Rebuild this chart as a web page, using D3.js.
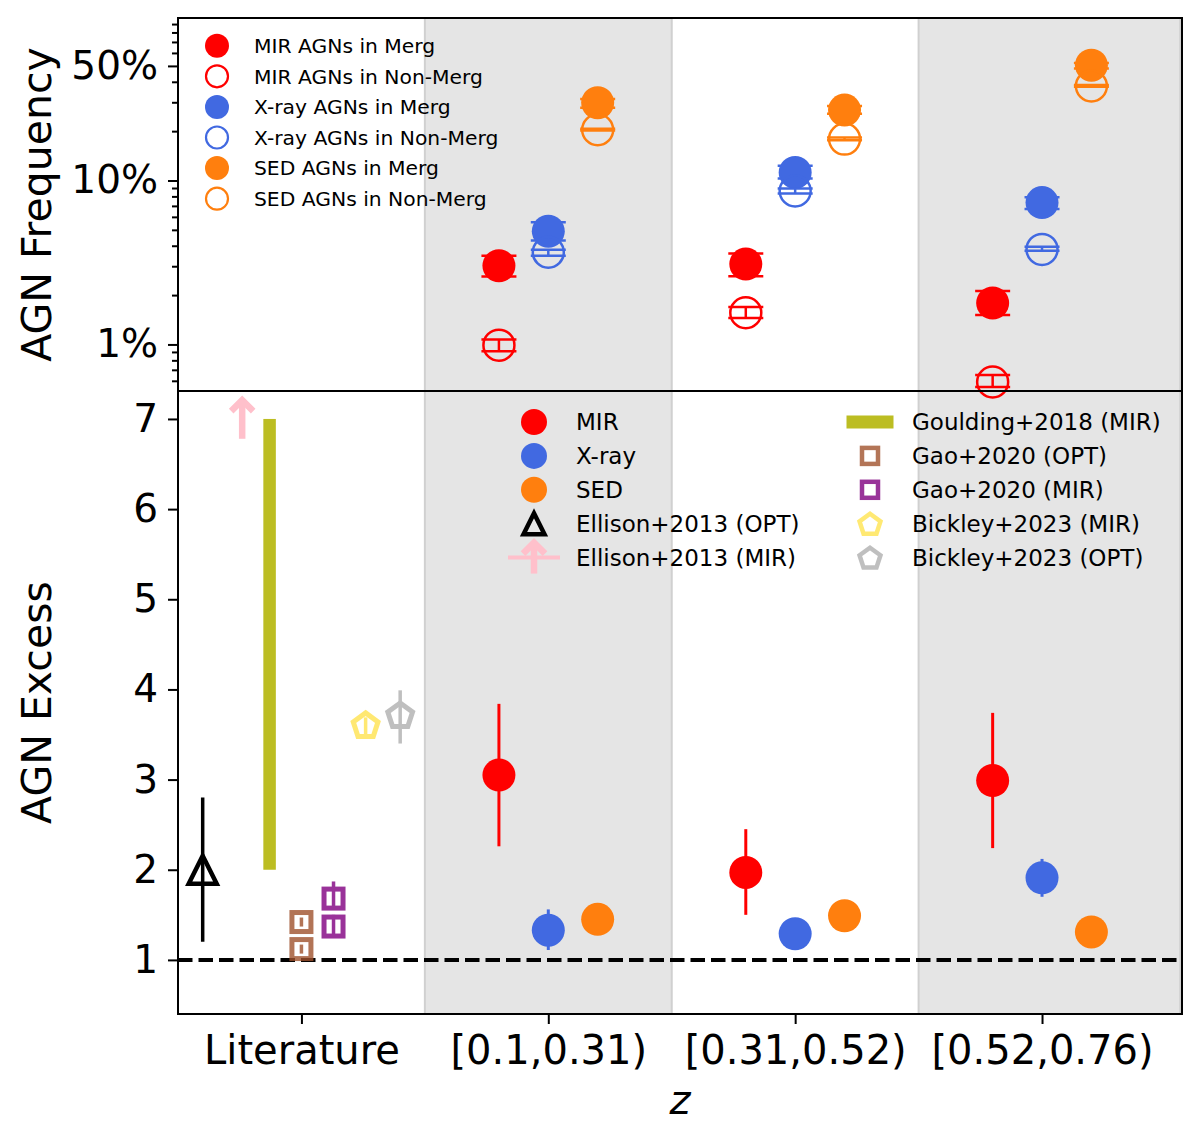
<!DOCTYPE html>
<html>
<head>
<meta charset="utf-8">
<script src="https://cdnjs.cloudflare.com/ajax/libs/d3/7.8.5/d3.min.js"></script>
<style>
  body { margin: 0; background: #fff; }
  text { font-family: "DejaVu Sans", sans-serif; fill: #000; }
</style>
</head>
<body>
<div id="chart-area"></div>
<script>
// ---- data ----
var bins = ["Literature", "[0.1,0.31)", "[0.31,0.52)", "[0.52,0.76)"];
var binPos = [0, 1, 2, 3];
var zBins = [1, 2, 3];

// AGN frequency (fractions) per redshift bin: value, lower, upper
var mirMerg    = [0.0302, 0.0309, 0.0179];
var mirMergLo  = [0.0260, 0.0261, 0.0151];
var mirMergHi  = [0.0347, 0.0359, 0.0212];
var mirNon     = [0.0099, 0.0156, 0.0059];
var mirNonLo   = [0.0091, 0.0145, 0.0055];
var mirNonHi   = [0.0107, 0.0169, 0.0065];
var xrayMerg   = [0.049, 0.112, 0.0733];
var xrayMergLo = [0.043, 0.103, 0.067];
var xrayMergHi = [0.0557, 0.123, 0.079];
var xrayNon    = [0.0365, 0.0863, 0.038];
var xrayNonLo  = [0.0348, 0.0833, 0.0373];
var xrayNonHi  = [0.0378, 0.0893, 0.0395];
var sedMerg    = [0.298, 0.269, 0.505];
var sedMergLo  = [0.278, 0.255, 0.483];
var sedMergHi  = [0.314, 0.285, 0.52];
var sedNon     = [0.204, 0.179, 0.377];
var sedNonLo   = [0.202, 0.176, 0.373];
var sedNonHi   = [0.207, 0.183, 0.382];

// AGN excess per redshift bin
var exMir    = [3.05, 1.97, 2.99];
var exMirLo  = [2.26, 1.50, 2.24];
var exMirHi  = [3.84, 2.45, 3.74];
var exXray   = [1.33, 1.29, 1.91];
var exXrayLo = [1.11, 1.27, 1.70];
var exXrayHi = [1.56, 1.31, 2.12];
var exSed    = [1.45, 1.49, 1.31];
var exSedLo  = [1.43, 1.47, 1.29];
var exSedHi  = [1.47, 1.51, 1.33];

// literature values
var ellisonOpt = { x: -0.4, v: 2.0, lo: 1.2, hi: 2.8 };
var ellisonMir = { x: -0.24, lo: 6.78, hi: 7.22 };
var goulding   = { x: -0.13, lo: 2.0, hi: 7.0 };
var gaoOpt     = [1.42, 1.12];
var gaoOptLo   = [1.37, 1.07];
var gaoOptHi   = [1.47, 1.17];
var gaoMir     = [1.68, 1.37];
var gaoMirLo   = [1.57, 1.25];
var gaoMirHi   = [1.87, 1.50];
var bickleyMir = { x: 0.26, v: 3.61, lo: 3.50, hi: 3.69 };
var bickleyOpt = { x: 0.40, v: 3.72, lo: 3.40, hi: 3.99 };

var freqTicks = [0.01, 0.1, 0.5];
var freqTickLabels = ["1%", "10%", "50%"];
var freqMinor = [0.006, 0.007, 0.008, 0.009, 0.02, 0.03, 0.04, 0.05, 0.06, 0.07, 0.08, 0.09,
                 0.2, 0.3, 0.4, 0.6, 0.7, 0.8, 0.9];
var excessTicks = [1, 2, 3, 4, 5, 6, 7];

var RED = "#ff0000", BLUE = "#4169e1", ORANGE = "#ff7f0e";

// ---- layout ----
var left = 178, right = 1182, top1 = 18, mid = 391, bottom = 1014;

var svg = d3.select("#chart-area").append("svg")
  .attr("width", 1200)
  .attr("height", 1141);

svg.append("rect").attr("width", 1200).attr("height", 1141).attr("fill", "#fff");

var x = d3.scaleLinear().domain([-0.5, 3.567]).range([left, right]);
var yTop = d3.scaleLog().domain([0.0052, 0.98]).range([mid, top1]);
var yBot = d3.scaleLinear().domain([0.4, 7.31]).range([bottom, mid]);

// shaded redshift bins (span both panels)
[[0.5, 1.5], [2.5, 3.56]].forEach(function(s) {
  svg.append("rect")
    .attr("x", x(s[0]))
    .attr("y", top1)
    .attr("width", x(s[1]) - x(s[0]))
    .attr("height", bottom - top1)
    .attr("fill", "#e5e5e5")
    .attr("stroke", "#d0d0d0")
    .attr("stroke-width", 2);
});

// helper: vertical error bar
function errBar(g, xp, y0, y1, color, width, cap) {
  g.append("line")
    .attr("x1", xp).attr("x2", xp)
    .attr("y1", y0).attr("y2", y1)
    .attr("stroke", color).attr("stroke-width", width);
  if (cap) {
    [y0, y1].forEach(function(yy) {
      g.append("line")
        .attr("x1", xp - cap).attr("x2", xp + cap)
        .attr("y1", yy).attr("y2", yy)
        .attr("stroke", color).attr("stroke-width", width);
    });
  }
}

function pentagon(r) {
  var pts = d3.range(5).map(function(i) {
    var a = -Math.PI / 2 + i * 2 * Math.PI / 5;
    return [r * Math.cos(a), r * Math.sin(a) + r * 0.1];
  });
  return "M" + pts.join("L") + "Z";
}

function triangle(h) {
  return "M0," + (-h) + "L" + (-h) + "," + h + "L" + h + "," + h + "Z";
}

// ---- top panel: AGN frequency ----
var gTop = svg.append("g");

var topSeries = [
  { v: mirMerg, lo: mirMergLo, hi: mirMergHi, c: RED, dx: -0.2, fill: true },
  { v: mirNon, lo: mirNonLo, hi: mirNonHi, c: RED, dx: -0.2, fill: false },
  { v: xrayMerg, lo: xrayMergLo, hi: xrayMergHi, c: BLUE, dx: 0, fill: true },
  { v: xrayNon, lo: xrayNonLo, hi: xrayNonHi, c: BLUE, dx: 0, fill: false },
  { v: sedMerg, lo: sedMergLo, hi: sedMergHi, c: ORANGE, dx: 0.2, fill: true },
  { v: sedNon, lo: sedNonLo, hi: sedNonHi, c: ORANGE, dx: 0.2, fill: false }
];

topSeries.forEach(function(s) {
  zBins.forEach(function(b, i) {
    errBar(gTop, x(b + s.dx), yTop(s.lo[i]), yTop(s.hi[i]), s.c, 2.5, 17.5);
  });
  gTop.selectAll(null)
    .data(s.v)
    .enter()
    .append("circle")
    .attr("cx", function(d, i) { return x(zBins[i] + s.dx); })
    .attr("cy", function(d) { return yTop(d); })
    .attr("r", s.fill ? 16.5 : 15.5)
    .attr("fill", s.fill ? s.c : "none")
    .attr("stroke", s.c)
    .attr("stroke-width", s.fill ? 0 : 2.5);
});

// top legend
var topLegend = [
  ["MIR AGNs in Merg", RED, true], ["MIR AGNs in Non-Merg", RED, false],
  ["X-ray AGNs in Merg", BLUE, true], ["X-ray AGNs in Non-Merg", BLUE, false],
  ["SED AGNs in Merg", ORANGE, true], ["SED AGNs in Non-Merg", ORANGE, false]
];
topLegend.forEach(function(d, i) {
  var ly = 45.7 + i * 30.6;
  gTop.append("circle")
    .attr("cx", 217).attr("cy", ly)
    .attr("r", d[2] ? 12 : 11)
    .attr("fill", d[2] ? d[1] : "none")
    .attr("stroke", d[1])
    .attr("stroke-width", d[2] ? 0 : 2.2);
  gTop.append("text")
    .attr("x", 254).attr("y", ly)
    .attr("dy", "0.36em")
    .attr("font-size", "20.3px")
    .text(d[0]);
});

// ---- bottom panel: AGN excess ----
var gBot = svg.append("g");

// reference line at 1
gBot.append("line")
  .attr("x1", left).attr("x2", right)
  .attr("y1", yBot(1)).attr("y2", yBot(1))
  .attr("stroke", "#000").attr("stroke-width", 4)
  .attr("stroke-dasharray", "14.5,6");

// Goulding+2018 range
gBot.append("rect")
  .attr("x", x(goulding.x) - 6)
  .attr("y", yBot(goulding.hi))
  .attr("width", 12.5)
  .attr("height", yBot(goulding.lo) - yBot(goulding.hi))
  .attr("fill", "#bcbd22");

// Ellison+2013 (MIR) lower limit arrow
function upArrow(g, xp, yLow, yHigh, color) {
  g.append("line")
    .attr("x1", xp).attr("x2", xp)
    .attr("y1", yLow).attr("y2", yHigh + 2)
    .attr("stroke", color).attr("stroke-width", 6.5);
  g.append("path")
    .attr("d", "M" + (xp - 11) + "," + (yHigh + 12) + "L" + xp + "," + (yHigh + 1) +
      "L" + (xp + 11) + "," + (yHigh + 12))
    .attr("fill", "none")
    .attr("stroke", color).attr("stroke-width", 6.5);
}
upArrow(gBot, x(ellisonMir.x), yBot(ellisonMir.lo), yBot(ellisonMir.hi), "#ffc0cb");

// Ellison+2013 (OPT)
errBar(gBot, x(ellisonOpt.x), yBot(ellisonOpt.lo), yBot(ellisonOpt.hi), "#000", 3.5, 0);
gBot.append("path")
  .attr("transform", "translate(" + x(ellisonOpt.x) + "," + yBot(ellisonOpt.v) + ")")
  .attr("d", triangle(14))
  .attr("fill", "none")
  .attr("stroke", "#000")
  .attr("stroke-width", 4.5)
  .attr("stroke-linejoin", "miter");

// Gao+2020 squares
function squares(vals, lo, hi, xv, color) {
  var g = gBot.append("g").attr("opacity", 0.8);
  vals.forEach(function(v, i) {
    errBar(g, x(xv), yBot(lo[i]), yBot(hi[i]), color, 3.5, 0);
    g.append("rect")
      .attr("x", x(xv) - 9.5).attr("y", yBot(v) - 9.5)
      .attr("width", 19).attr("height", 19)
      .attr("fill", "none")
      .attr("stroke", color).attr("stroke-width", 5);
  });
}
squares(gaoOpt, gaoOptLo, gaoOptHi, 0, "#a0522d");
squares(gaoMir, gaoMirLo, gaoMirHi, 0.13, "#800080");

// Bickley+2023 pentagons
function pent(g, d, color, op) {
  var gg = g.append("g").attr("opacity", op);
  errBar(gg, x(d.x), yBot(d.lo), yBot(d.hi), color, 3.5, 0);
  gg.append("path")
    .attr("transform", "translate(" + x(d.x) + "," + yBot(d.v) + ")")
    .attr("d", pentagon(13))
    .attr("fill", "none")
    .attr("stroke", color)
    .attr("stroke-width", 5);
}
pent(gBot, bickleyMir, "#ffd700", 0.55);
pent(gBot, bickleyOpt, "#808080", 0.5);

// excess points per bin
var botSeries = [
  { v: exMir, lo: exMirLo, hi: exMirHi, c: RED, dx: -0.2 },
  { v: exXray, lo: exXrayLo, hi: exXrayHi, c: BLUE, dx: 0 },
  { v: exSed, lo: exSedLo, hi: exSedHi, c: ORANGE, dx: 0.2 }
];
botSeries.forEach(function(s) {
  zBins.forEach(function(b, i) {
    errBar(gBot, x(b + s.dx), yBot(s.lo[i]), yBot(s.hi[i]), s.c, 3, 0);
  });
  gBot.selectAll(null)
    .data(s.v)
    .enter()
    .append("circle")
    .attr("cx", function(d, i) { return x(zBins[i] + s.dx); })
    .attr("cy", function(d) { return yBot(d); })
    .attr("r", 16.5)
    .attr("fill", s.c);
});

// bottom legend, left column
var legL = [
  ["MIR", "circle", RED], ["X-ray", "circle", BLUE], ["SED", "circle", ORANGE],
  ["Ellison+2013 (OPT)", "tri", "#000"], ["Ellison+2013 (MIR)", "arrow", "#ffc0cb"]
];
legL.forEach(function(d, i) {
  var ly = 422 + i * 33.9, lx = 534;
  if (d[1] == "circle") {
    gBot.append("circle").attr("cx", lx).attr("cy", ly).attr("r", 13).attr("fill", d[2]);
  } else if (d[1] == "tri") {
    gBot.append("path")
      .attr("transform", "translate(" + lx + "," + ly + ")")
      .attr("d", triangle(10.5))
      .attr("fill", "none").attr("stroke", "#000").attr("stroke-width", 4.5);
  } else {
    gBot.append("line")
      .attr("x1", lx - 26).attr("x2", lx + 26)
      .attr("y1", ly).attr("y2", ly)
      .attr("stroke", d[2]).attr("stroke-width", 4);
    upArrow(gBot, lx, ly + 16, ly - 16, d[2]);
  }
  gBot.append("text")
    .attr("x", 576).attr("y", ly)
    .attr("dy", "0.36em")
    .attr("font-size", "23px")
    .text(d[0]);
});

// bottom legend, right column
var legR = [
  ["Goulding+2018 (MIR)", "bar", "#bcbd22"], ["Gao+2020 (OPT)", "sq", "#a0522d"],
  ["Gao+2020 (MIR)", "sq", "#800080"], ["Bickley+2023 (MIR)", "pent", "#ffd700"],
  ["Bickley+2023 (OPT)", "pent", "#808080"]
];
legR.forEach(function(d, i) {
  var ly = 422 + i * 33.9, lx = 870;
  if (d[1] == "bar") {
    gBot.append("rect")
      .attr("x", lx - 23.5).attr("y", ly - 6.5)
      .attr("width", 47).attr("height", 13)
      .attr("fill", d[2]);
  } else if (d[1] == "sq") {
    gBot.append("rect")
      .attr("x", lx - 8).attr("y", ly - 8)
      .attr("width", 16).attr("height", 16)
      .attr("fill", "none").attr("stroke", d[2]).attr("stroke-width", 4.5)
      .attr("opacity", 0.8);
  } else {
    gBot.append("path")
      .attr("transform", "translate(" + lx + "," + ly + ")")
      .attr("d", pentagon(11))
      .attr("fill", "none").attr("stroke", d[2]).attr("stroke-width", 4.5)
      .attr("opacity", d[2] == "#ffd700" ? 0.55 : 0.5);
  }
  gBot.append("text")
    .attr("x", 912).attr("y", ly)
    .attr("dy", "0.36em")
    .attr("font-size", "23px")
    .text(d[0]);
});

// ---- axes ----
var yTopAxis = d3.axisLeft(yTop)
  .tickValues(freqTicks)
  .tickSize(10)
  .tickPadding(10)
  .tickFormat(function(d, i) { return freqTickLabels[i]; });
var gYT = svg.append("g")
  .attr("transform", "translate(" + left + ",0)")
  .call(yTopAxis);

var gYTm = svg.append("g")
  .attr("transform", "translate(" + left + ",0)")
  .call(d3.axisLeft(yTop).tickValues(freqMinor).tickSize(6).tickFormat(""));

var yBotAxis = d3.axisLeft(yBot)
  .tickValues(excessTicks)
  .tickSize(10)
  .tickPadding(10)
  .tickFormat(d3.format("d"));
var gYB = svg.append("g")
  .attr("transform", "translate(" + left + ",0)")
  .call(yBotAxis);

var xAxisCall = d3.axisBottom(x)
  .tickValues(binPos)
  .tickSize(10)
  .tickPadding(12)
  .tickFormat(function(d, i) { return bins[i]; });
var gX = svg.append("g")
  .attr("transform", "translate(0," + bottom + ")")
  .call(xAxisCall);

[gYT, gYTm, gYB, gX].forEach(function(g) {
  g.select(".domain").remove();
  g.selectAll(".tick line").attr("stroke", "#000").attr("stroke-width", 2);
  g.selectAll(".tick text")
    .attr("fill", "#000")
    .style("font-family", "'DejaVu Sans', sans-serif");
});
gYT.selectAll(".tick text").attr("font-size", "39px");
gYB.selectAll(".tick text").attr("font-size", "39px");
gX.selectAll(".tick text").attr("font-size", "40px");

// frames of the two panels
[[top1, mid], [mid, bottom]].forEach(function(p) {
  svg.append("rect")
    .attr("x", left).attr("y", p[0])
    .attr("width", right - left).attr("height", p[1] - p[0])
    .attr("fill", "none")
    .attr("stroke", "#000")
    .attr("stroke-width", 2);
});

// axis labels
svg.append("text")
  .attr("transform", "translate(51," + ((top1 + mid) / 2) + ") rotate(-90)")
  .attr("text-anchor", "middle")
  .attr("font-size", "41px")
  .text("AGN Frequency");

svg.append("text")
  .attr("transform", "translate(51," + ((mid + bottom) / 2) + ") rotate(-90)")
  .attr("text-anchor", "middle")
  .attr("font-size", "41px")
  .text("AGN Excess");

svg.append("text")
  .attr("x", (left + right) / 2)
  .attr("y", 1114)
  .attr("text-anchor", "middle")
  .attr("font-size", "40px")
  .attr("font-style", "italic")
  .text("z");
</script>
</body>
</html>
